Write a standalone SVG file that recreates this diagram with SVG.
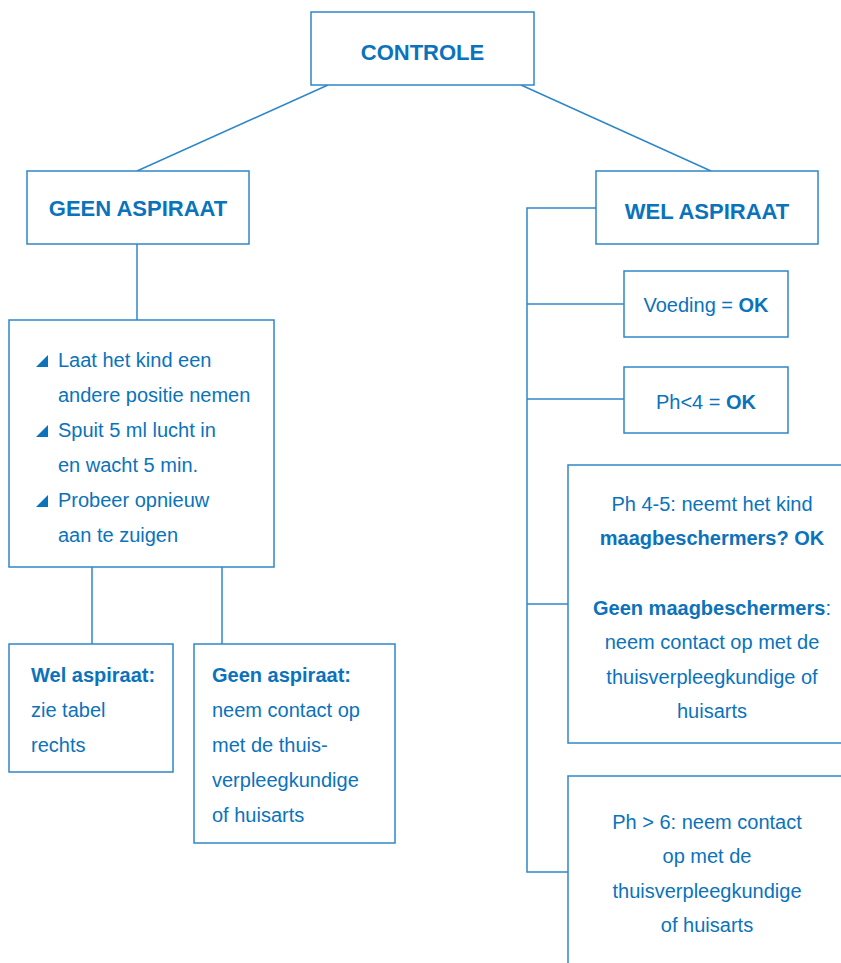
<svg xmlns="http://www.w3.org/2000/svg" width="841" height="963" viewBox="0 0 841 963">
<style>
  .box { fill: #ffffff; stroke: #2f87c8; stroke-width: 1.5; }
  .ln { fill: none; stroke: #2f87c8; stroke-width: 1.5; }
  text { font-family: "Liberation Sans", Arial, sans-serif; fill: #0a73bb; font-size: 20px; }
  .t { font-size: 22px; font-weight: bold; text-anchor: middle; }
  .c { text-anchor: middle; }
  .b { font-weight: bold; }
  .bul { fill: #0a73bb; }
</style>
<rect width="841" height="963" fill="#ffffff"/>
<g id="connectors">
  <line class="ln" x1="328" y1="85" x2="137" y2="171"/>
  <line class="ln" x1="521" y1="85" x2="711" y2="171"/>
  <line class="ln" x1="137" y1="244" x2="137" y2="320"/>
  <line class="ln" x1="92" y1="567" x2="92" y2="644"/>
  <line class="ln" x1="222" y1="567" x2="222" y2="644"/>
  <polyline class="ln" points="596,208 527,208 527,872 568,872"/>
  <line class="ln" x1="527" y1="304" x2="624" y2="304"/>
  <line class="ln" x1="527" y1="399" x2="624" y2="399"/>
  <line class="ln" x1="527" y1="604" x2="568" y2="604"/>
</g>
<g id="controle">
  <rect class="box" x="311" y="12" width="223" height="73"/>
  <text class="t" x="422.5" y="60">CONTROLE</text>
</g>
<g id="geen-aspiraat">
  <rect class="box" x="27" y="171" width="222" height="73"/>
  <text class="t" x="138" y="216">GEEN ASPIRAAT</text>
</g>
<g id="wel-aspiraat">
  <rect class="box" x="596" y="171" width="222" height="73"/>
  <text class="t" x="707" y="219">WEL ASPIRAAT</text>
</g>
<g id="acties">
  <rect class="box" x="9" y="320" width="265" height="247"/>
  <polygon class="bul" points="48,355 48,367 36,367"/>
  <polygon class="bul" points="48,425 48,437 36,437"/>
  <polygon class="bul" points="48,495 48,507 36,507"/>
  <text x="58" y="367">Laat het kind een</text>
  <text x="58" y="402">andere positie nemen</text>
  <text x="58" y="437">Spuit 5 ml lucht in</text>
  <text x="58" y="472">en wacht 5 min.</text>
  <text x="58" y="507">Probeer opnieuw</text>
  <text x="58" y="542">aan te zuigen</text>
</g>
<g id="wel-aspiraat-sub">
  <rect class="box" x="9" y="644" width="164" height="128"/>
  <text class="b" x="31" y="682">Wel aspiraat:</text>
  <text x="31" y="717">zie tabel</text>
  <text x="31" y="752">rechts</text>
</g>
<g id="geen-aspiraat-sub">
  <rect class="box" x="194" y="644" width="201" height="199"/>
  <text class="b" x="212" y="682">Geen aspiraat:</text>
  <text x="212" y="717">neem contact op</text>
  <text x="212" y="752">met de thuis-</text>
  <text x="212" y="787">verpleegkundige</text>
  <text x="212" y="822">of huisarts</text>
</g>
<g id="voeding">
  <rect class="box" x="624" y="271" width="164" height="66"/>
  <text class="c" x="706" y="312">Voeding = <tspan class="b">OK</tspan></text>
</g>
<g id="ph4">
  <rect class="box" x="624" y="367" width="164" height="66"/>
  <text class="c" x="706" y="409">Ph&lt;4 = <tspan class="b">OK</tspan></text>
</g>
<g id="ph45">
  <rect class="box" x="568" y="465" width="300" height="278"/>
  <text class="c" x="712" y="511">Ph 4-5: neemt het kind</text>
  <text class="c b" x="712" y="545">maagbeschermers? OK</text>
  <text class="c" x="712" y="615"><tspan class="b">Geen maagbeschermers</tspan>:</text>
  <text class="c" x="712" y="649">neem contact op met de</text>
  <text class="c" x="712" y="684">thuisverpleegkundige of</text>
  <text class="c" x="712" y="718">huisarts</text>
</g>
<g id="ph6">
  <rect class="box" x="568" y="776" width="300" height="220"/>
  <text class="c" x="707" y="829">Ph &gt; 6: neem contact</text>
  <text class="c" x="707" y="863">op met de</text>
  <text class="c" x="707" y="898">thuisverpleegkundige</text>
  <text class="c" x="707" y="932">of huisarts</text>
</g>
</svg>
